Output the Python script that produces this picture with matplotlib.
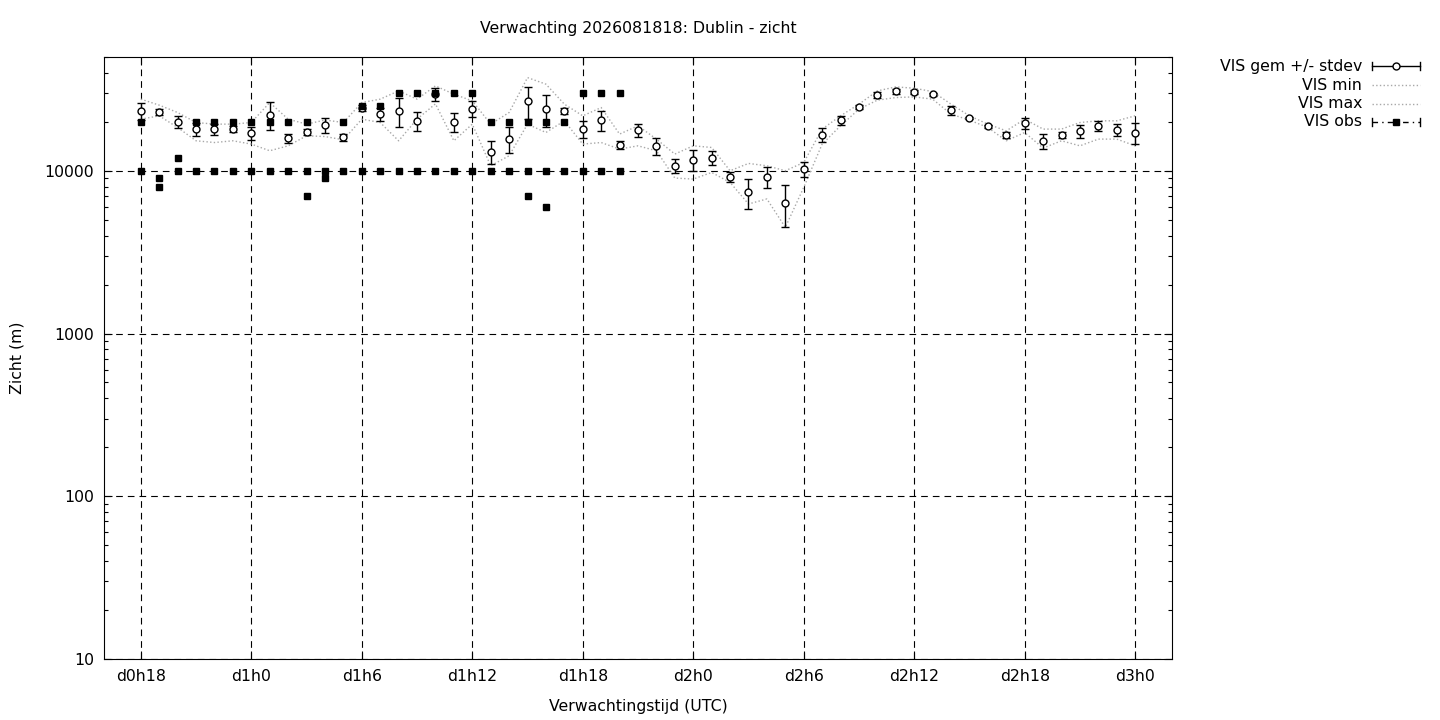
import numpy as np
import matplotlib
matplotlib.use("Agg")
import matplotlib.pyplot as plt
from matplotlib.lines import Line2D
from matplotlib.ticker import FixedLocator, NullFormatter, LogLocator

# uren vanaf d0h0
hours = np.arange(18, 73)

vis_mean = [23300, 23000, 19900, 18000, 18000, 18000, 17100, 22100, 15900, 17300,
            19100, 16100, 24300, 22300, 23300, 20200, 29500, 20000, 24100, 13100,
            15650, 26800, 23900, 23200, 18000, 20500, 14400, 17800, 14200, 10700,
            11700, 12000, 9150, 7400, 9150, 6340, 10200, 16600, 20500, 24700,
            29100, 30800, 30400, 29500, 23500, 21000, 18800, 16600, 19600, 15200,
            16600, 17500, 18800, 17800, 17100]

vis_std = [2800, 1100, 1700, 1600, 1300, 800, 1600, 4200, 1000, 650,
           2000, 830, 1000, 2000, 4800, 2700, 2600, 2800, 2700, 2100,
           2860, 6100, 5400, 1000, 2150, 2860, 820, 1600, 1700, 1070,
           1700, 1180, 650, 1550, 1350, 1840, 1100, 1600, 1300, 600,
           1200, 1200, 950, 600, 1500, 300, 400, 780, 1450, 1660,
           780, 1700, 1300, 1500, 2500]

vis_max = [27540, 25300, 22790, 19790, 19340, 19340, 19790, 26240, 20750, 19340,
           20500, 19790, 26240, 27540, 30960, 27540, 33230, 29550, 26890, 19340,
           22790, 37360, 34040, 25660, 21750, 24450, 16800, 18890, 15650, 12660,
           14230, 13900, 10000, 11090, 10730, 10000, 11240, 18030, 21750, 25660,
           30960, 32750, 32150, 30660, 25660, 21750, 19340, 17590, 20750, 18030,
           18030, 19790, 20270, 20270, 21750]

vis_min = [20750, 21750, 18440, 15280, 14910, 15280, 14580, 13270, 14230, 16400,
           16230, 15490, 20750, 19790, 15280, 20750, 25770, 15280, 19340, 10730,
           12360, 19340, 17180, 20270, 14580, 14910, 13590, 14230, 13270, 9020,
           8890, 9760, 8480, 6250, 6710, 4490, 7900, 14580, 18890, 23900,
           27150, 28170, 28440, 27540, 22280, 20470, 18440, 15280, 17180, 13780,
           15280, 14230, 15650, 15650, 14230]

# waarnemingen (meerdere per uur mogelijk)
obs_hours = [18, 18, 19, 19, 20, 20, 21, 21, 22, 22, 23, 23, 24, 24, 25, 25,
             26, 26, 27, 27, 27, 28, 28, 29, 29, 30, 30, 31, 31, 32, 32,
             33, 33, 34, 34, 35, 35, 36, 36, 37, 37, 38, 38, 39, 39, 39,
             40, 40, 40, 41, 41, 42, 42, 43, 43, 44, 44]
obs_values = [20000, 10000, 9000, 8000, 12000, 10000, 20000, 10000, 20000, 10000,
              20000, 10000, 20000, 10000, 20000, 10000, 20000, 10000, 20000, 10000,
              7000, 10000, 9000, 20000, 10000, 25000, 10000, 25000, 10000, 30000,
              10000, 30000, 10000, 30000, 10000, 30000, 10000, 30000, 10000, 20000,
              10000, 20000, 10000, 20000, 10000, 7000, 20000, 10000, 6000, 20000,
              10000, 30000, 10000, 30000, 10000, 30000, 10000]

xticks = np.arange(18, 73, 6)
xlabels = ["d%dh%d" % (h // 24, h % 24) for h in xticks]
yticks = [10, 100, 1000, 10000]

FS = 11.3
plt.rcParams['font.family'] = ['DejaVu Sans']
plt.rcParams['font.size'] = FS

fig = plt.figure(figsize=(14.4, 7.2), dpi=100)
ax = fig.add_axes([104 / 1440, 1 - 659 / 720, 1068 / 1440, 602 / 720])

mean = np.array(vis_mean, dtype=float)
std = np.array(vis_std, dtype=float)

ax.plot(hours, vis_min, ls=':', color='#a8a8a8', lw=1.0, zorder=2)
ax.plot(hours, vis_max, ls=':', color='#a8a8a8', lw=1.0, zorder=2)
ax.errorbar(hours, mean, yerr=std, fmt='o', color='black', ms=5, mfc='white',
            mec='black', mew=1.0, elinewidth=1.0, capsize=2.8, capthick=1.0, zorder=4)
ax.plot(obs_hours, obs_values, 's', color='black', ms=5.0, zorder=5)

ax.set_yscale('log')
ax.set_xlim(16, 74)
ax.set_ylim(10, 50000)
ax.yaxis.set_major_locator(FixedLocator(yticks))
ax.set_yticklabels([str(v) for v in yticks])
ax.yaxis.set_minor_locator(LogLocator(base=10, subs=np.arange(2, 10)))
ax.yaxis.set_minor_formatter(NullFormatter())
ax.set_xticks(xticks)
ax.set_xticklabels(xlabels)

ax.tick_params(which='both', direction='in', top=True, right=True, color='black')
ax.tick_params(which='major', length=6, width=0.8, pad=7, labelsize=FS)
ax.tick_params(which='minor', length=3, width=0.8)
for s in ax.spines.values():
    s.set_linewidth(0.8)

ax.grid(True, which='major', color='black', lw=0.8, ls=(0, (6, 4.5)))

ax.set_xlabel('Verwachtingstijd (UTC)')
ax.xaxis.set_label_coords(0.5, -0.067)
ax.set_ylabel('Zicht (m)')
ax.yaxis.set_label_coords(-0.074, 0.5)

fig.text(638 / 1440, 1 - 29 / 720, 'Verwachting 2026081818: Dublin - zicht',
         ha='center', va='center')

# legenda rechtsboven, buiten de plot
W, H = 1440.0, 720.0
labels = ['VIS gem +/- stdev', 'VIS min', 'VIS max', 'VIS obs']
rows = [66, 85, 104, 122]
x0, x1, xm = 1372, 1420, 1396
for lab, yy in zip(labels, rows):
    fig.text(1362 / W, 1 - yy / H, lab, ha='right', va='center')

def seg(xa, ya, xb, yb, **kw):
    fig.add_artist(Line2D([xa / W, xb / W], [1 - ya / H, 1 - yb / H], **kw))

y = rows[0]
seg(x0, y, x1, y, color='black', lw=1.0)
seg(x0, y - 4, x0, y + 4, color='black', lw=1.0)
seg(x1, y - 4, x1, y + 4, color='black', lw=1.0)
fig.add_artist(Line2D([xm / W], [1 - y / H], marker='o', ms=5, mfc='white', mec='black', mew=1.0))
for y in rows[1:3]:
    seg(x0, y, x1, y, color='#a8a8a8', lw=1.0, ls=':')
y = rows[3]
seg(x0, y, x1, y, color='black', lw=1.0, ls=(0, (4, 3, 1, 3)))
seg(x0, y - 4, x0, y + 4, color='black', lw=1.0)
seg(x1, y - 4, x1, y + 4, color='black', lw=1.0)
fig.add_artist(Line2D([xm / W], [1 - y / H], marker='s', ms=5.0, color='black'))

fig.savefig('out.png', dpi=100)
